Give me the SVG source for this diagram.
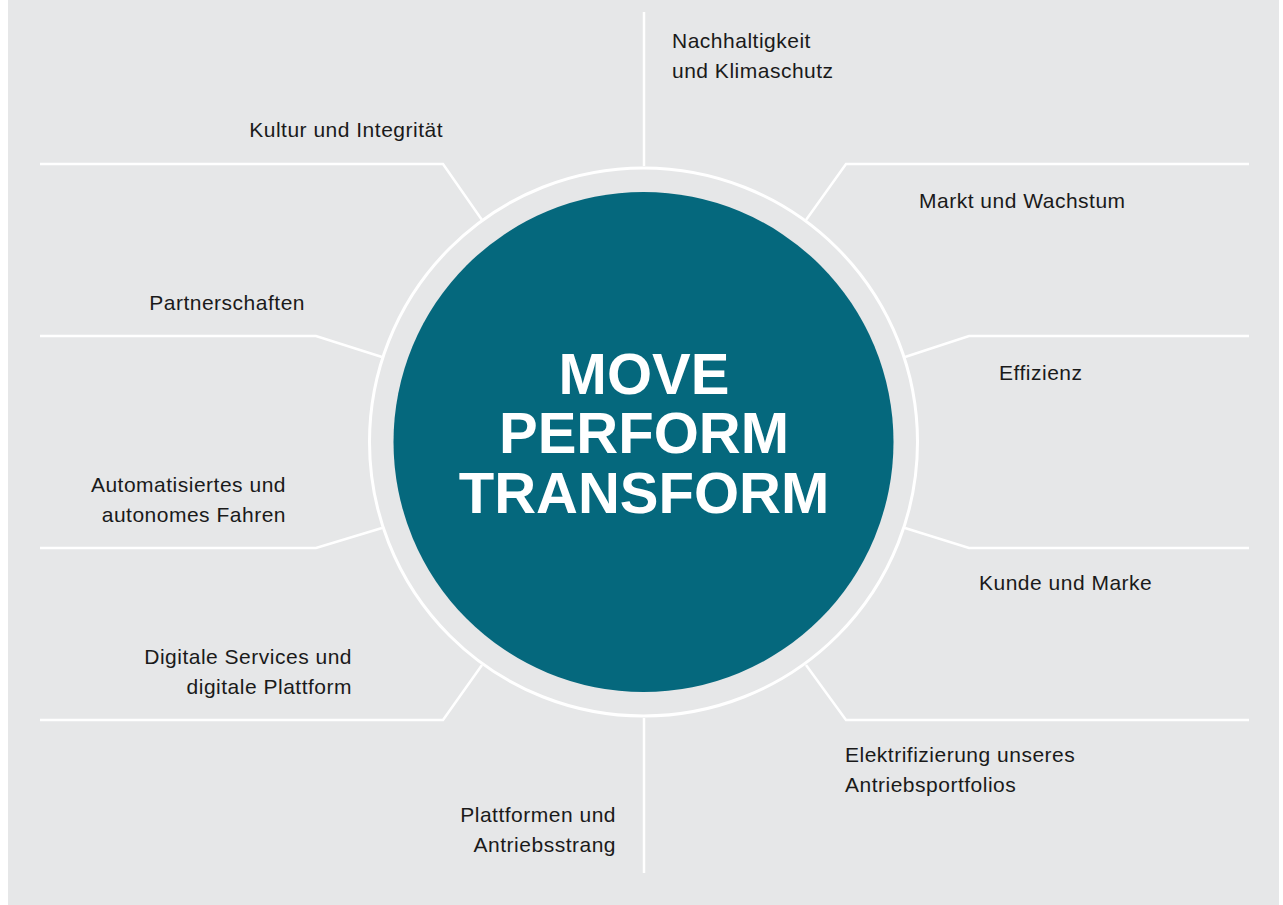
<svg xmlns="http://www.w3.org/2000/svg" width="1283" height="905" viewBox="0 0 1283 905">
<style>
.ln{fill:none;stroke:#ffffff;stroke-width:2.5;stroke-linejoin:miter}
.lb{font-family:"Liberation Sans",Arial,sans-serif;font-size:21px;letter-spacing:0.5px;fill:#1a1a1a}
.r{text-anchor:end}
.ct{font-family:"Liberation Sans",Arial,sans-serif;font-weight:bold;font-size:58px;fill:#ffffff;text-anchor:middle}
</style>
<rect x="0" y="0" width="1283" height="905" fill="#ffffff"/>
<rect x="8" y="0" width="1271" height="905" fill="#e6e7e8"/>
<g id="connectors">
<path class="ln" d="M644,12 V166"/>
<path class="ln" d="M644,718 V873"/>
<path class="ln" d="M40,164 H443 L482,220"/>
<path class="ln" d="M1249,164 H846 L806,220"/>
<path class="ln" d="M40,336 H316 L382,357"/>
<path class="ln" d="M1249,336 H969 L905,357"/>
<path class="ln" d="M40,548 H316 L382,528"/>
<path class="ln" d="M1249,548 H969 L905,528"/>
<path class="ln" d="M40,720 H443 L482,665"/>
<path class="ln" d="M1249,720 H846 L806,665"/>
</g>
<g id="center">
<circle cx="643.5" cy="442" r="274" fill="none" stroke="#ffffff" stroke-width="3"/>
<circle cx="643.5" cy="442" r="250" fill="#05687d"/>
<text class="ct" x="644" y="394">MOVE</text>
<text class="ct" x="644" y="453">PERFORM</text>
<text class="ct" x="644" y="513">TRANSFORM</text>
</g>
<g id="n1"><text class="lb" x="672" y="48">Nachhaltigkeit</text><text class="lb" x="672" y="78">und Klimaschutz</text></g>
<g id="n2"><text class="lb r" x="443" y="137">Kultur und Integrität</text></g>
<g id="n3"><text class="lb" x="919" y="208">Markt und Wachstum</text></g>
<g id="n4"><text class="lb r" x="305" y="310">Partnerschaften</text></g>
<g id="n5"><text class="lb" x="999" y="380">Effizienz</text></g>
<g id="n6"><text class="lb r" x="286" y="492">Automatisiertes und</text><text class="lb r" x="286" y="522">autonomes Fahren</text></g>
<g id="n7"><text class="lb" x="979" y="590">Kunde und Marke</text></g>
<g id="n8"><text class="lb r" x="352" y="664">Digitale Services und</text><text class="lb r" x="352" y="694">digitale Plattform</text></g>
<g id="n9"><text class="lb" x="845" y="762">Elektrifizierung unseres</text><text class="lb" x="845" y="792">Antriebsportfolios</text></g>
<g id="n10"><text class="lb r" x="616" y="822">Plattformen und</text><text class="lb r" x="616" y="852">Antriebsstrang</text></g>
</svg>
